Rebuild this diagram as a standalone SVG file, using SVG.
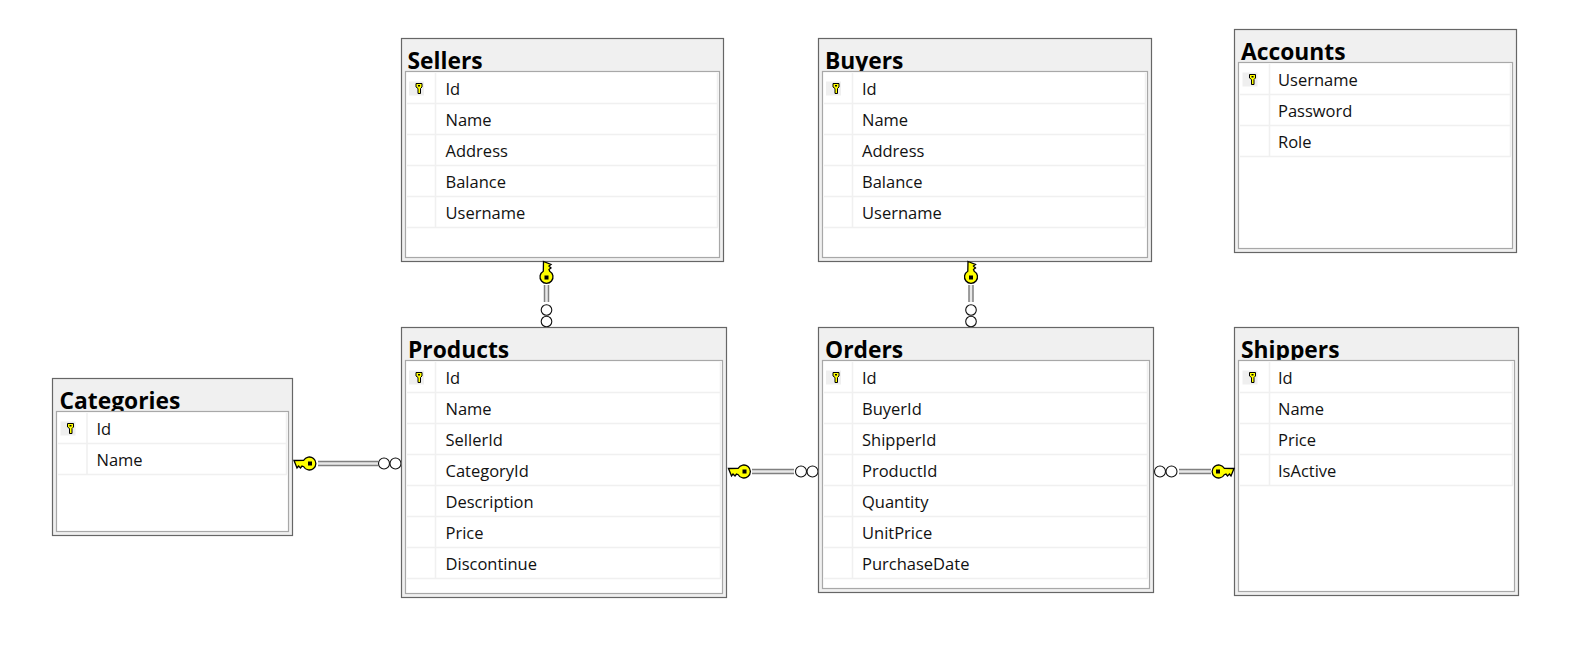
<svg xmlns="http://www.w3.org/2000/svg" xmlns:xlink="http://www.w3.org/1999/xlink" width="1570" height="651" viewBox="0 0 1570 651">
<style>
.o{fill:#f0f0f0;stroke:#666;stroke-width:1.200}
.f{fill:#fff;stroke:#a8a8a8;stroke-width:1.200}
.r{stroke:#f0f0f0;stroke-width:1.500;fill:none}
.t{font:700 22.800px "Open Sans","Noto Sans","Liberation Sans",sans-serif;fill:#000}
.c{font:16.500px "Open Sans","Noto Sans","Liberation Sans",sans-serif;fill:#111}
.ks{fill:#ffff00;stroke:#000;stroke-width:1.300}
.kp{fill:#ffff00;stroke:#000;stroke-width:1}
.l1{stroke:#808080;stroke-width:5.500;fill:none}
.l2{stroke:#e8e8e8;stroke-width:2.500;fill:none}
.e{fill:#fff;stroke:#111;stroke-width:1.100}
</style>
<defs>
<g id="pk"><rect x="-10" y="-7" width="15" height="14" fill="#efefef"/><path class="kp" d="M-3-5H3V-1.500L1.500 0V5H-1V0L-3-1.500Z"/><rect x="-1" y="-3.500" width="2" height="1.500" fill="#000"/></g>
<g id="fk"><path class="ks" d="M-3-10.500L4.500-7.500L2.500-6L4.500-4L2.500-2.500L3.200-.8A6.500 6.500 0 1 1-3.200-.8Z"/><rect x="-2" y="3.500" width="4" height="4" fill="#000"/></g>
</defs>

<g id="connectors">
<g id="c-sellers-products"><path class="l1" d="M546.500 285V302"/><path class="l2" d="M546.500 285V302"/><circle class="e" cx="546.500" cy="310" r="5.300"/><circle class="e" cx="546.500" cy="321.500" r="5.300"/></g>
<g id="c-buyers-orders"><path class="l1" d="M971 285V302"/><path class="l2" d="M971 285V302"/><circle class="e" cx="971" cy="310" r="5.300"/><circle class="e" cx="971" cy="321.500" r="5.300"/></g>
<g id="c-categories-products"><path class="l1" d="M318 463.500H378"/><path class="l2" d="M318 463.500H378"/><circle class="e" cx="384" cy="463.500" r="5.500"/><circle class="e" cx="395.500" cy="463.500" r="5.500"/></g>
<g id="c-products-orders"><path class="l1" d="M752 471.500H794"/><path class="l2" d="M752 471.500H794"/><circle class="e" cx="801" cy="471.500" r="5.500"/><circle class="e" cx="812.500" cy="471.500" r="5.500"/></g>
<g id="c-orders-shippers"><path class="l1" d="M1179 471.500H1211"/><path class="l2" d="M1179 471.500H1211"/><circle class="e" cx="1160" cy="471.500" r="5.500"/><circle class="e" cx="1171.500" cy="471.500" r="5.500"/></g>
</g>

<g id="sellers">
<rect class="o" x="401.500" y="38.500" width="322" height="223"/>
<text class="t" x="407.500" y="68.500">Sellers</text>
<rect class="f" x="405.500" y="71.500" width="314" height="186"/>
<path class="r" d="M407 103.500H718M407 134.500H718M407 165.500H718M407 196.500H718M407 227.500H718M435.500 73V227M717.500 73V227"/>
<use xlink:href="#pk" x="419" y="88.500"/>
<text class="c" x="445.500" y="95">Id</text><text class="c" x="445.500" y="126">Name</text><text class="c" x="445.500" y="157">Address</text><text class="c" x="445.500" y="188">Balance</text><text class="c" x="445.500" y="219">Username</text>
</g>

<g id="buyers">
<rect class="o" x="818.500" y="38.500" width="333" height="223"/>
<text class="t" x="825" y="68.500">Buyers</text>
<rect class="f" x="822.500" y="71.500" width="325" height="186"/>
<path class="r" d="M824 103.500H1146M824 134.500H1146M824 165.500H1146M824 196.500H1146M824 227.500H1146M852.500 73V227M1145.500 73V227"/>
<use xlink:href="#pk" x="836" y="88.500"/>
<text class="c" x="862" y="95">Id</text><text class="c" x="862" y="126">Name</text><text class="c" x="862" y="157">Address</text><text class="c" x="862" y="188">Balance</text><text class="c" x="862" y="219">Username</text>
</g>

<g id="accounts">
<rect class="o" x="1234.500" y="29.500" width="282" height="223"/>
<text class="t" x="1241" y="59.500">Accounts</text>
<rect class="f" x="1238.500" y="62.500" width="274" height="186"/>
<path class="r" d="M1240 94.500H1511M1240 125.500H1511M1240 156.500H1511M1269.500 64V156M1510.500 64V156"/>
<use xlink:href="#pk" x="1252.500" y="79.500"/>
<text class="c" x="1278" y="86">Username</text><text class="c" x="1278" y="117">Password</text><text class="c" x="1278" y="148">Role</text>
</g>

<g id="products">
<rect class="o" x="401.500" y="327.500" width="325" height="270"/>
<text class="t" x="408" y="357.500">Products</text>
<rect class="f" x="405.500" y="360.500" width="317" height="233"/>
<path class="r" d="M407 392.500H721M407 423.500H721M407 454.500H721M407 485.500H721M407 516.500H721M407 547.500H721M407 578.500H721M435.500 362V578M720.500 362V578"/>
<use xlink:href="#pk" x="419" y="377.500"/>
<text class="c" x="445.500" y="384">Id</text><text class="c" x="445.500" y="415">Name</text><text class="c" x="445.500" y="446">SellerId</text><text class="c" x="445.500" y="477">CategoryId</text><text class="c" x="445.500" y="508">Description</text><text class="c" x="445.500" y="539">Price</text><text class="c" x="445.500" y="570">Discontinue</text>
</g>

<g id="orders">
<rect class="o" x="818.500" y="327.500" width="335" height="265"/>
<text class="t" x="825" y="357.500">Orders</text>
<rect class="f" x="822.500" y="360.500" width="327" height="228"/>
<path class="r" d="M824 392.500H1148M824 423.500H1148M824 454.500H1148M824 485.500H1148M824 516.500H1148M824 547.500H1148M824 578.500H1148M852.500 362V578M1147.500 362V578"/>
<use xlink:href="#pk" x="836" y="377.500"/>
<text class="c" x="862" y="384">Id</text><text class="c" x="862" y="415">BuyerId</text><text class="c" x="862" y="446">ShipperId</text><text class="c" x="862" y="477">ProductId</text><text class="c" x="862" y="508">Quantity</text><text class="c" x="862" y="539">UnitPrice</text><text class="c" x="862" y="570">PurchaseDate</text>
</g>

<g id="shippers">
<rect class="o" x="1234.500" y="327.500" width="284" height="268"/>
<text class="t" x="1241" y="357.500">Shippers</text>
<rect class="f" x="1238.500" y="360.500" width="276" height="231"/>
<path class="r" d="M1240 392.500H1513M1240 423.500H1513M1240 454.500H1513M1240 485.500H1513M1269.500 362V485M1512.500 362V485"/>
<use xlink:href="#pk" x="1252.500" y="377.500"/>
<text class="c" x="1278" y="384">Id</text><text class="c" x="1278" y="415">Name</text><text class="c" x="1278" y="446">Price</text><text class="c" x="1278" y="477">IsActive</text>
</g>

<g id="categories">
<rect class="o" x="52.500" y="378.500" width="240" height="157"/>
<text class="t" x="59.500" y="408.500">Categories</text>
<rect class="f" x="56.500" y="411.500" width="232" height="120"/>
<path class="r" d="M58 443.500H287M58 474.500H287M87 413V474M286.500 413V474"/>
<use xlink:href="#pk" x="70.500" y="428.500"/>
<text class="c" x="96.500" y="435">Id</text><text class="c" x="96.500" y="466">Name</text>
</g>

<g id="keys">
<use xlink:href="#fk" transform="translate(546.500 272)"/>
<use xlink:href="#fk" transform="translate(971 272)"/>
<use xlink:href="#fk" transform="translate(304.500 463.500) rotate(-90) scale(-1 1)"/>
<use xlink:href="#fk" transform="translate(739 471.500) rotate(-90) scale(-1 1)"/>
<use xlink:href="#fk" transform="translate(1223.500 471.500) rotate(90)"/>
</g>
</svg>
